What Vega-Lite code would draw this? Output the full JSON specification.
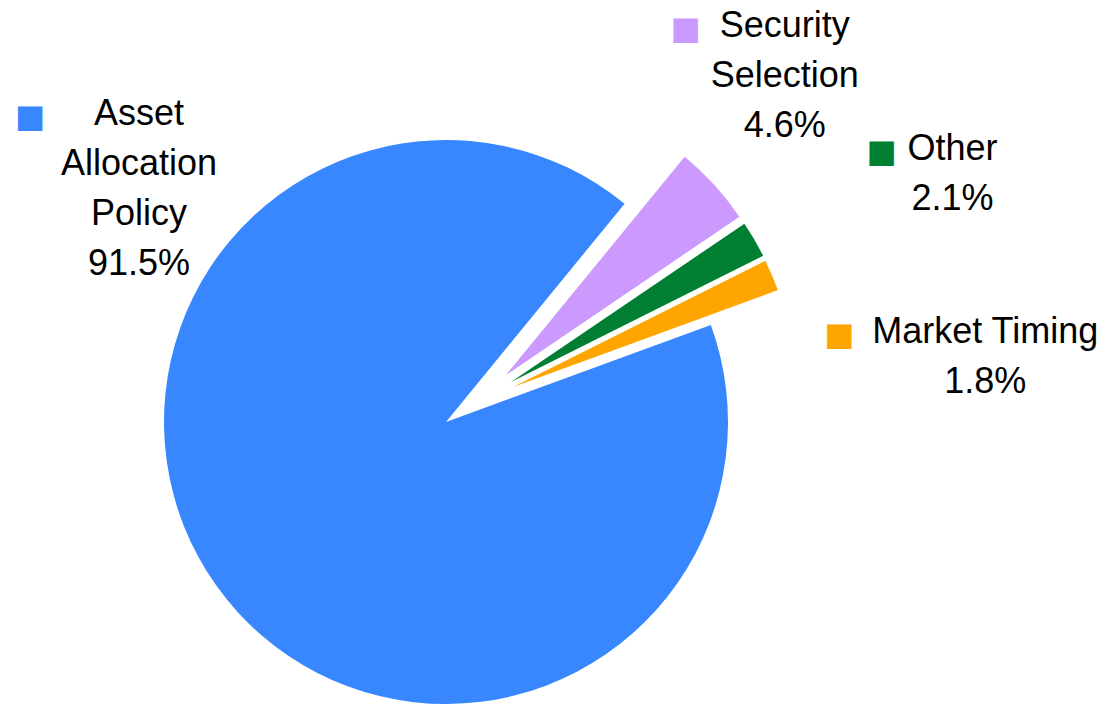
{
  "$schema": "https://vega.github.io/schema/vega-lite/v6.json",
  "width": 892,
  "height": 564,
  "autosize": "none",
  "padding": {"left": 0, "top": 140, "right": 222, "bottom": 0},
  "background": "white",
  "view": {"stroke": null},
  "data": {
    "values": [
      {"category": "Security Selection", "label": "Security\nSelection\n4.6%", "value": 4.6, "order": 1},
      {"category": "Other", "label": "Other\n2.1%", "value": 2.1, "order": 2},
      {"category": "Market Timing", "label": "Market Timing\n1.8%", "value": 1.8, "order": 3},
      {"category": "Asset Allocation Policy", "label": "Asset\nAllocation\nPolicy\n91.5%", "value": 91.5, "order": 4}
    ]
  },
  "transform": [
    {"stack": "value", "groupby": [], "sort": [{"field": "order", "order": "ascending"}], "as": ["v0", "v1"]}
  ],
  "encoding": {
    "theta": {"field": "v0", "type": "quantitative", "scale": {"domain": [0, 100], "range": [0.686, 6.969]}},
    "color": {
      "field": "category",
      "type": "nominal",
      "scale": {
        "domain": ["Asset Allocation Policy", "Security Selection", "Other", "Market Timing"],
        "range": ["#3887FF", "#CC99FF", "#007F33", "#FFA500"]
      },
      "legend": null
    }
  },
  "layer": [
    {
      "transform": [{"filter": "datum.category === 'Asset Allocation Policy'"}],
      "layer": [
        {"mark": {"type": "arc", "radius": 282}, "encoding": {"theta2": {"field": "v1"}}},
        {"mark": {"type": "text", "align": "center", "baseline": "alphabetic", "lineBreak": "\n", "lineHeight": 50, "fontSize": 36, "font": "Liberation Sans", "radius": 0, "dx": -307, "dy": -297}, "encoding": {"text": {"field": "label"}, "color": {"value": "black"}}},
        {"mark": {"type": "text", "text": "■", "align": "center", "baseline": "middle", "fontSize": 32, "font": "DejaVu Sans", "radius": 0, "dx": -416, "dy": -305}}
      ]
    },
    {
      "transform": [{"filter": "datum.category === 'Security Selection'"}],
      "layer": [
        {"mark": {"type": "arc", "radius": 282, "xOffset": 60, "yOffset": -47}, "encoding": {"theta2": {"field": "v1"}}},
        {"mark": {"type": "text", "align": "center", "baseline": "alphabetic", "lineBreak": "\n", "lineHeight": 50, "fontSize": 36, "font": "Liberation Sans", "radius": 500, "dx": 22, "dy": 2}, "encoding": {"text": {"field": "label"}, "color": {"value": "black"}}},
        {"mark": {"type": "text", "text": "■", "align": "center", "baseline": "middle", "fontSize": 32, "font": "DejaVu Sans", "radius": 500, "dx": -77, "dy": -6}}
      ]
    },
    {
      "transform": [{"filter": "datum.category === 'Other'"}],
      "layer": [
        {"mark": {"type": "arc", "radius": 282, "xOffset": 65, "yOffset": -40}, "encoding": {"theta2": {"field": "v1"}}},
        {"mark": {"type": "text", "align": "center", "baseline": "alphabetic", "lineBreak": "\n", "lineHeight": 50, "fontSize": 36, "font": "Liberation Sans", "radius": 566, "dx": 38, "dy": 56}, "encoding": {"text": {"field": "label"}, "color": {"value": "black"}}},
        {"mark": {"type": "text", "text": "■", "align": "center", "baseline": "middle", "fontSize": 32, "font": "DejaVu Sans", "radius": 566, "dx": -33, "dy": 48}}
      ]
    },
    {
      "transform": [{"filter": "datum.category === 'Market Timing'"}],
      "layer": [
        {"mark": {"type": "arc", "radius": 282, "xOffset": 67, "yOffset": -35}, "encoding": {"theta2": {"field": "v1"}}},
        {"mark": {"type": "text", "align": "center", "baseline": "alphabetic", "lineBreak": "\n", "lineHeight": 50, "fontSize": 36, "font": "Liberation Sans", "radius": 518, "dx": 76, "dy": 153}, "encoding": {"text": {"field": "label"}, "color": {"value": "black"}}},
        {"mark": {"type": "text", "text": "■", "align": "center", "baseline": "middle", "fontSize": 32, "font": "DejaVu Sans", "radius": 518, "dx": -70, "dy": 145}}
      ]
    }
  ]
}
